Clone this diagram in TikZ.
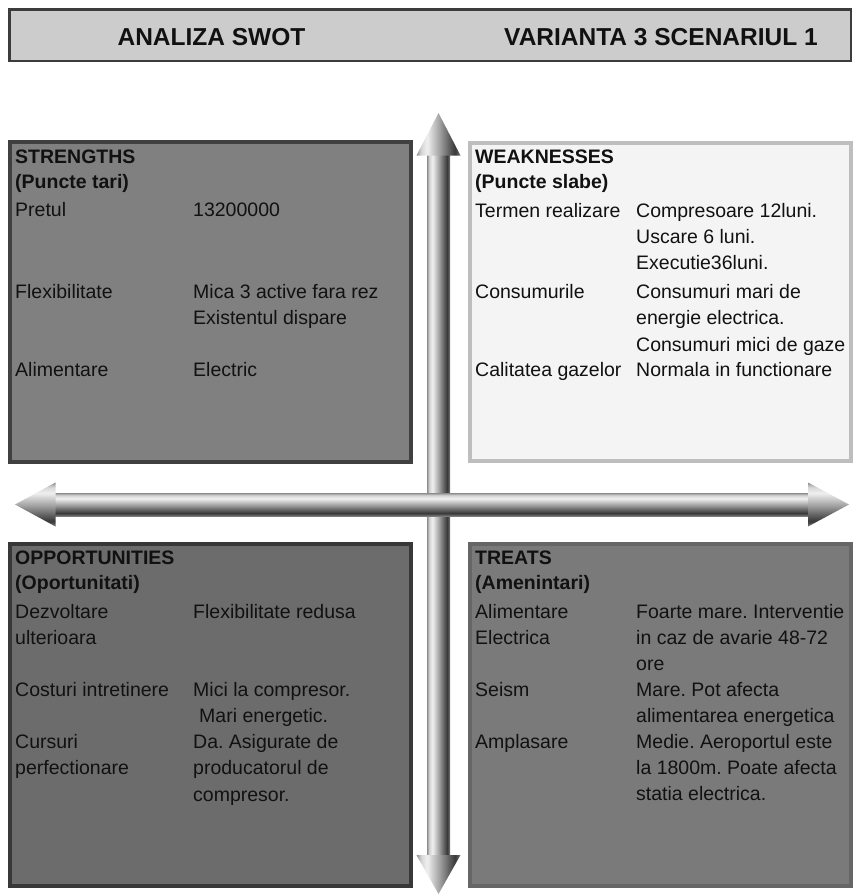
\documentclass[tikz,border=0pt]{standalone}
\usepackage{fontspec}
\setmainfont{Liberation Sans}
\frenchspacing
\definecolor{m1}{HTML}{8C8C8C}
\definecolor{m2}{HTML}{D4D4D4}
\definecolor{m3}{HTML}{F0F0F0}
\definecolor{m4}{HTML}{A8A8A8}
\definecolor{m5}{HTML}{5A5A5A}
\definecolor{m6}{HTML}{383838}
\definecolor{m7}{HTML}{7A7A7A}
\definecolor{hdrfill}{HTML}{CCCCCC}
\definecolor{hdrline}{HTML}{3C3C3C}
\definecolor{sfill}{HTML}{808080}
\definecolor{sline}{HTML}{404040}
\definecolor{wfill}{HTML}{F4F4F4}
\definecolor{wline}{HTML}{BEBEBE}
\definecolor{ofill}{HTML}{6C6C6C}
\definecolor{oline}{HTML}{383838}
\definecolor{tfill}{HTML}{7A7A7A}
\definecolor{tline}{HTML}{666666}
\definecolor{ink}{HTML}{111111}
\pgfdeclarehorizontalshading{metalv}{100bp}{color(0bp)=(m1); color(25bp)=(m1); color(30bp)=(m2); color(37bp)=(m3); color(50bp)=(m4); color(63bp)=(m5); color(69bp)=(m6); color(75bp)=(m7); color(100bp)=(m7)}
\pgfdeclareverticalshading{metalh}{100bp}{color(0bp)=(m7); color(25bp)=(m7); color(31bp)=(m6); color(37bp)=(m5); color(50bp)=(m4); color(63bp)=(m3); color(70bp)=(m2); color(75bp)=(m1); color(100bp)=(m1)}
\begin{document}
\begin{tikzpicture}[x=1pt,y=-1pt,
  hdrbox/.style={fill=hdrfill,draw=hdrline,line width=2.5pt},
  hdrtxt/.style={inner sep=0pt,anchor=base,text=ink,font=\bfseries\fontsize{24.5}{28}\selectfont},
  quad/.style={line width=4pt},
  txt/.style={inner sep=0pt,anchor=base west,text=ink,font=\fontsize{19.5}{24}\selectfont},
  ttl/.style={txt,font=\bfseries\fontsize{19.5}{24}\selectfont}]
\useasboundingbox (0,0) rectangle (857,895);
% header
\draw[hdrbox] (9.25,9.25) rectangle (850.75,61);
\node[hdrtxt] (h1) at (211.5,45) {ANALIZA SWOT};
\node[hdrtxt] (h2) at (661,45) {VARIANTA 3 SCENARIUL 1};
% quadrants
\draw[quad,fill=sfill,draw=sline] (10,142) rectangle (411,462);
\draw[quad,fill=wfill,draw=wline] (470,143) rectangle (851,461);
\draw[quad,fill=ofill,draw=oline] (10,544) rectangle (411,886);
\draw[quad,fill=tfill,draw=tline] (470,544) rectangle (851,886);
% strengths
\node[ttl] (s0) at (15,163) {STRENGTHS};
\node[ttl] (s1) at (15,188.5) {(Puncte tari)};
\node[txt] (s2) at (15,216) {Pretul};
\node[txt] (s3) at (193,216) {13200000};
\node[txt] (s4) at (15,298) {Flexibilitate};
\node[txt] (s5) at (193,298) {Mica 3 active fara rez};
\node[txt] (s6) at (193,324.5) {Existentul dispare};
\node[txt] (s7) at (15,376) {Alimentare};
\node[txt] (s8) at (193,376) {Electric};
% weaknesses
\node[ttl] (w0) at (475,163) {WEAKNESSES};
\node[ttl] (w1) at (475,188.5) {(Puncte slabe)};
\node[txt] (w2) at (475,217) {Termen realizare};
\node[txt] (w3) at (636,217) {Compresoare 12luni.};
\node[txt] (w4) at (636,243) {Uscare 6 luni.};
\node[txt] (w5) at (636,269.3) {Executie36luni.};
\node[txt] (w6) at (475,298) {Consumurile};
\node[txt] (w7) at (636,298) {Consumuri mari de};
\node[txt] (w8) at (636,324.5) {energie electrica.};
\node[txt] (w9) at (636,351) {Consumuri mici de gaze};
\node[txt] (w10) at (475,376) {Calitatea gazelor};
\node[txt] (w11) at (636,376) {Normala in functionare};
% opportunities
\node[ttl] (o0) at (15,564) {OPPORTUNITIES};
\node[ttl] (o1) at (15,589.5) {(Oportunitati)};
\node[txt] (o2) at (15,618) {Dezvoltare};
\node[txt] (o3) at (15,644) {ulterioara};
\node[txt] (o4) at (193,618) {Flexibilitate redusa};
\node[txt] (o5) at (15,696.3) {Costuri intretinere};
\node[txt] (o6) at (193,696.3) {Mici la compresor.};
\node[txt] (o7) at (199,722.5) {Mari energetic.};
\node[txt] (o8) at (15,748.7) {Cursuri};
\node[txt] (o9) at (15,774.7) {perfectionare};
\node[txt] (o10) at (193,748.7) {Da. Asigurate de};
\node[txt] (o11) at (193,774.7) {producatorul de};
\node[txt] (o12) at (193,801) {compresor.};
% treats
\node[ttl] (t0) at (475,564) {TREATS};
\node[ttl] (t1) at (475,589.5) {(Amenintari)};
\node[txt] (t2) at (475,618) {Alimentare};
\node[txt] (t3) at (475,644) {Electrica};
\node[txt] (t4) at (636,618) {Foarte mare. Interventie};
\node[txt] (t5) at (636,644) {in caz de avarie 48-72};
\node[txt] (t6) at (636,670.2) {ore};
\node[txt] (t7) at (475,696.3) {Seism};
\node[txt] (t8) at (636,696.3) {Mare. Pot afecta};
\node[txt] (t9) at (636,722.5) {alimentarea energetica};
\node[txt] (t10) at (475,748.7) {Amplasare};
\node[txt] (t11) at (636,748.7) {Medie. Aeroportul este};
\node[txt] (t12) at (636,774.7) {la 1800m. Poate afecta};
\node[txt] (t13) at (636,800.5) {statia electrica.};
% vertical arrow
\shade[shading=metalv] (427,154) rectangle (450,856);
\shade[shading=metalv] (438.5,113) -- (460.5,155.5) -- (416.5,155.5) -- cycle;
\shade[shading=metalv] (438.5,894) -- (460.5,855) -- (416.5,855) -- cycle;
% horizontal arrow
\shade[shading=metalh] (54,493) rectangle (809,516);
\shade[shading=metalh] (15,504.5) -- (55.5,482.5) -- (55.5,526.5) -- cycle;
\shade[shading=metalh] (849,504.5) -- (808,482.5) -- (808,526.5) -- cycle;
\end{tikzpicture}
\end{document}
